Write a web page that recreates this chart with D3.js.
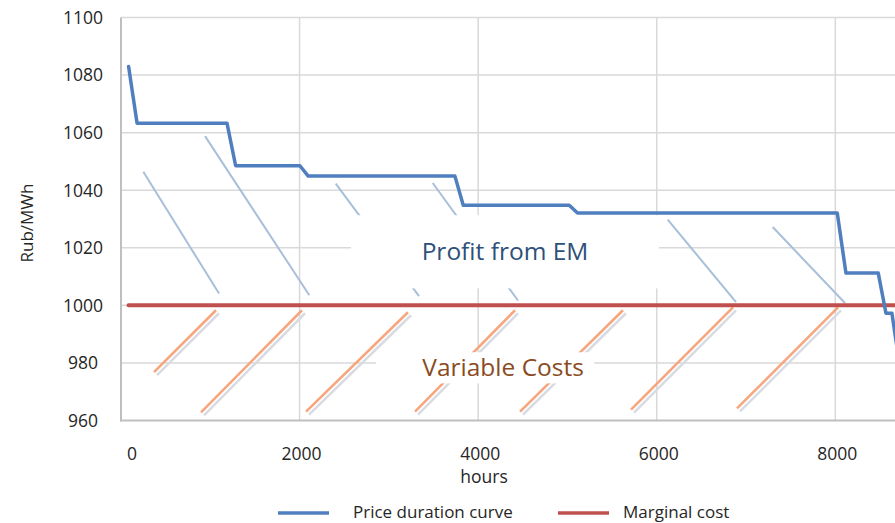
<!DOCTYPE html>
<html>
<head>
<meta charset="utf-8">
<script src="https://cdn.jsdelivr.net/npm/d3@7"></script>
<style>
  html, body { margin: 0; padding: 0; background: #fff; }
  svg { display: block; font-family: "Open Sans", "DejaVu Sans", sans-serif; }
</style>
</head>
<body>
<svg id="chart" width="895" height="523"></svg>
<script>
// Price duration curve: [hours, Rub/MWh]
const priceHours  = [85, 180, 1187, 1284, 2004, 2097, 3740, 3833, 5020, 5113, 8022, 8119, 8481, 8567, 8634, 8740];
const priceValues = [1083, 1063.3, 1063.3, 1048.5, 1048.5, 1044.9, 1044.9, 1034.8, 1034.8, 1032.1, 1032.1, 1011.2, 1011.2, 997.3, 997.3, 975];

// Marginal cost (flat)
const marginalHours  = [85, 9000];
const marginalValues = [1000, 1000];

// Axis ticks
const yTicks = [960, 980, 1000, 1020, 1040, 1060, 1080, 1100];
const xTicks = [0, 2000, 4000, 6000, 8000];

// Hatching above marginal cost (profit area): [h0, v0, h1, v1]
const profitHatch = [
  [250, 1046.4, 1098, 1004.1],
  [941, 1058.8, 2109, 1003.5],
  [2405, 1042.3, 3338, 1003.2],
  [3491, 1042.5, 4446, 1001.7],
  [6123, 1029.8, 6888, 1001.1],
  [7299, 1027.2, 8108, 1000.8]
];

// Hatching below marginal cost (variable costs area): [h0, v0, h1, v1]
const costHatch = [
  [370, 976.8, 1064, 998.3],
  [896, 962.8, 2027, 998.3],
  [2072, 963.1, 3214, 997.6],
  [3293, 963.1, 4413, 998.3],
  [4469, 963.1, 5622, 998.3],
  [5712, 963.8, 6854, 999.3],
  [6899, 964.2, 8031, 999.3]
];

// Label boxes: [h0, v0, h1, v1], caption and caption shift
const labelBoxes = [
  { text: "Profit from EM", box: [2576, 1031.3, 6025, 1005.9], color: "#2E5079", shift: 0 },
  { text: "Variable Costs", box: [2856, 983.7, 5300, 972.9], color: "#8A4B1E", shift: 18 }
];

const svg = d3.select("#chart");
const x = d3.scaleLinear().domain([0, 9000]).range([121, 924.6]);
const y = d3.scaleLinear().domain([960, 1100]).range([420.5, 17.5]);

// Gridlines
svg.append("g").selectAll("line.h").data(yTicks.filter(d => d !== 960)).join("line")
  .attr("x1", x(0)).attr("x2", 895)
  .attr("y1", d => y(d)).attr("y2", d => y(d))
  .attr("stroke", "#D9D9D9").attr("stroke-width", 1.5);
svg.append("g").selectAll("line.v").data(xTicks.filter(d => d !== 0)).join("line")
  .attr("x1", d => x(d)).attr("x2", d => x(d))
  .attr("y1", y(1100)).attr("y2", y(960))
  .attr("stroke", "#D9D9D9").attr("stroke-width", 1.5);

// Axis lines
svg.append("line").attr("x1", x(0)).attr("x2", x(0)).attr("y1", y(1100)).attr("y2", y(960) + 1)
  .attr("stroke", "#BFBFBF").attr("stroke-width", 2);
svg.append("line").attr("x1", x(0) - 1).attr("x2", 895).attr("y1", y(960)).attr("y2", y(960))
  .attr("stroke", "#BFBFBF").attr("stroke-width", 2);

// Hatching
const hatch = svg.append("g");
hatch.selectAll("line.p").data(profitHatch).join("line")
  .attr("x1", d => x(d[0])).attr("y1", d => y(d[1]))
  .attr("x2", d => x(d[2])).attr("y2", d => y(d[3]))
  .attr("stroke", "#A8BFDA").attr("stroke-width", 2);
hatch.selectAll("line.cs").data(costHatch).join("line")
  .attr("transform", "translate(3,3)")
  .attr("x1", d => x(d[0])).attr("y1", d => y(d[1]))
  .attr("x2", d => x(d[2])).attr("y2", d => y(d[3]))
  .attr("stroke", "#D8DCE2").attr("stroke-width", 2.5);
hatch.selectAll("line.c").data(costHatch).join("line")
  .attr("x1", d => x(d[0])).attr("y1", d => y(d[1]))
  .attr("x2", d => x(d[2])).attr("y2", d => y(d[3]))
  .attr("stroke", "#F7A57C").attr("stroke-width", 2.5);

// White label boxes with captions
const boxes = svg.append("g").selectAll("g").data(labelBoxes).join("g");
boxes.append("rect")
  .attr("x", d => x(d.box[0])).attr("y", d => y(d.box[1]))
  .attr("width", d => x(d.box[2]) - x(d.box[0]))
  .attr("height", d => y(d.box[3]) - y(d.box[1]))
  .attr("fill", "#fff");
boxes.append("text")
  .attr("x", d => (x(d.box[0]) + x(d.box[2])) / 2 + d.shift)
  .attr("y", d => (y(d.box[1]) + y(d.box[3])) / 2)
  .attr("dy", "0.35em")
  .attr("text-anchor", "middle")
  .attr("font-size", 24.5)
  .attr("fill", d => d.color)
  .text(d => d.text);

// Series
const line = d3.line().x(d => x(d[0])).y(d => y(d[1]));
svg.append("path")
  .datum(marginalHours.map((h, i) => [h, marginalValues[i]]))
  .attr("d", line).attr("fill", "none")
  .attr("stroke", "#C0504D").attr("stroke-width", 4).attr("stroke-linecap", "round");
svg.append("path")
  .datum(priceHours.map((h, i) => [h, priceValues[i]]))
  .attr("d", line).attr("fill", "none")
  .attr("stroke", "#4F7FBE").attr("stroke-width", 3.5)
  .attr("stroke-linejoin", "round").attr("stroke-linecap", "round");

// Y tick labels
svg.append("g").selectAll("text").data(yTicks).join("text")
  .attr("x", 83).attr("y", d => y(d)).attr("dy", "0.36em")
  .attr("text-anchor", "middle").attr("font-size", 17.5).attr("fill", "#262626")
  .text(d => d);

// X tick labels
svg.append("g").selectAll("text").data(xTicks).join("text")
  .attr("x", d => x(d) + (d === 0 ? 11 : 2)).attr("y", 460)
  .attr("text-anchor", "middle").attr("font-size", 17.5).attr("fill", "#262626")
  .text(d => d);

// Axis titles
svg.append("text").attr("x", 484).attr("y", 483)
  .attr("text-anchor", "middle").attr("font-size", 17.5).attr("fill", "#262626").text("hours");
svg.append("text").attr("transform", "translate(33,223) rotate(-90)")
  .attr("text-anchor", "middle").attr("font-size", 17).attr("fill", "#262626").text("Rub/MWh");

// Legend
const legend = [
  { name: "Price duration curve", color: "#4F7FBE", x0: 278, gap: 75 },
  { name: "Marginal cost", color: "#C0504D", x0: 558, gap: 65 }
];
const lg = svg.append("g").selectAll("g").data(legend).join("g");
lg.append("line").attr("x1", d => d.x0).attr("x2", d => d.x0 + 51)
  .attr("y1", 513).attr("y2", 513).attr("stroke", d => d.color).attr("stroke-width", 3.5);
lg.append("text").attr("x", d => d.x0 + d.gap).attr("y", 517.5)
  .attr("font-size", 17).attr("fill", "#262626").text(d => d.name);
</script>
</body>
</html>
